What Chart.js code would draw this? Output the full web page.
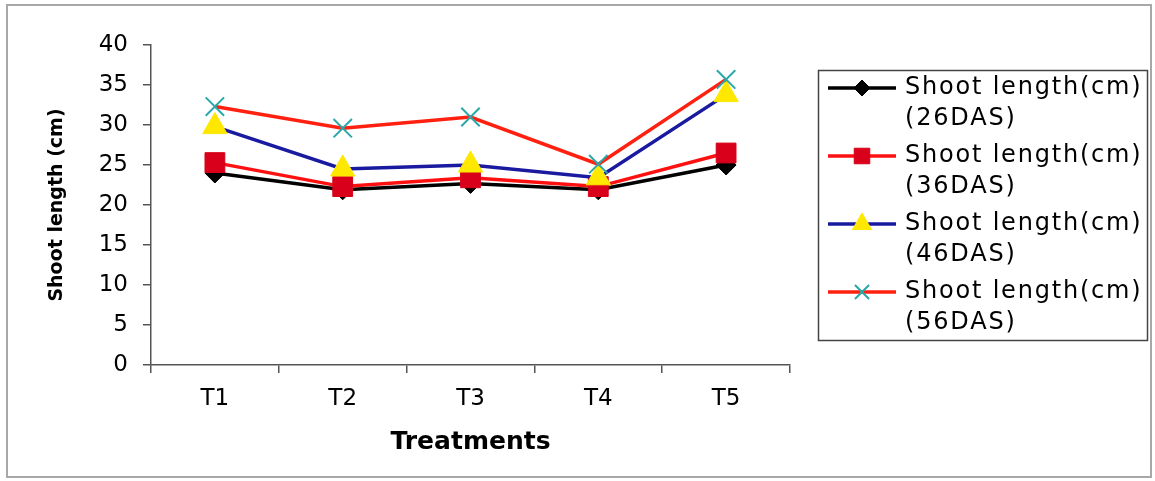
<!DOCTYPE html>
<html>
<head>
<meta charset="utf-8">
<title>Shoot length</title>
<script src="https://cdn.jsdelivr.net/npm/chart.js@4.4.1/dist/chart.umd.min.js"></script>
<style>
    html, body { margin: 0; padding: 0; background: #fff; }
    canvas { display: block; }
</style>
</head>
<body>
<canvas id="shootChart" width="1155" height="481"></canvas>
<script>
/* global Chart */
const categories = ['T1', 'T2', 'T3', 'T4', 'T5'];
const yTicks = [0, 5, 10, 15, 20, 25, 30, 35, 40];
const seriesNames = [
    ['Shoot length(cm)', '(26DAS)'],
    ['Shoot length(cm)', '(36DAS)'],
    ['Shoot length(cm)', '(46DAS)'],
    ['Shoot length(cm)', '(56DAS)'],
];
const das26 = [24.0, 21.9, 22.7, 21.9, 25.0];
const das36 = [25.3, 22.3, 23.4, 22.3, 26.5];
const das46 = [29.8, 24.5, 25.0, 23.4, 33.8];
const das56 = [32.3, 29.6, 31.0, 25.1, 35.7];

(function () {
    const FONT = '"DejaVu Sans", "Liberation Sans", Arial, sans-serif';
    const AXIS = '#555';

    function series(idx, values, line, marker, style, radius, markerBorder) {
        return {
            label: seriesNames[idx].join(' '),
            lines: seriesNames[idx],
            data: values,
            borderColor: line,
            borderWidth: 3.5,
            tension: 0,
            pointStyle: style,
            pointRadius: radius,
            pointHoverRadius: radius,
            pointBackgroundColor: marker,
            pointBorderColor: marker,
            pointBorderWidth: markerBorder || 1,
            order: 4 - idx,
        };
    }

    // white page with the thin grey frame round the figure
    const framePlugin = {
        id: 'frame',
        beforeDraw(chart) {
            const ctx = chart.ctx;
            ctx.save();
            ctx.fillStyle = '#fff';
            ctx.fillRect(0, 0, chart.width, chart.height);
            ctx.strokeStyle = '#a8a8a8';
            ctx.lineWidth = 2;
            ctx.strokeRect(7, 5, 1144, 472);
            ctx.restore();
        },
    };

    // boxed legend on the right, two text lines per entry
    const boxLegend = {
        id: 'boxLegend',
        afterDraw(chart) {
            const ctx = chart.ctx;
            const left = chart.chartArea.right + 28;
            const top = 70;
            ctx.save();
            ctx.strokeStyle = '#444';
            ctx.lineWidth = 1.5;
            ctx.strokeRect(left + 0.5, top + 0.5, 329, 270);

            chart.data.datasets.forEach((ds, i) => {
                const y = 88 + i * 68;
                ctx.strokeStyle = ds.borderColor;
                ctx.lineWidth = 3.5;
                ctx.beginPath();
                ctx.moveTo(left + 10, y);
                ctx.lineTo(left + 78, y);
                ctx.stroke();

                ctx.fillStyle = ds.pointBackgroundColor;
                ctx.strokeStyle = ds.pointBorderColor;
                ctx.lineWidth = ds.pointBorderWidth;
                Chart.helpers.drawPoint(ctx, {
                    pointStyle: ds.pointStyle,
                    radius: Math.round(ds.pointRadius * 0.75),
                    rotation: 0,
                    borderWidth: ds.pointBorderWidth,
                }, left + 44, y);

                ctx.fillStyle = '#000';
                ctx.font = '24px ' + FONT;
                ctx.letterSpacing = '1.8px';
                ctx.textBaseline = 'middle';
                ctx.textAlign = 'left';
                ds.lines.forEach((t, k) => ctx.fillText(t, left + 87, y + k * 31));
            });
            ctx.restore();
        },
    };

    const ctx = document.getElementById('shootChart').getContext('2d');
    new Chart(ctx, {
        type: 'line',
        data: {
            labels: categories,
            datasets: [
                series(0, das26, '#000000', '#000000', 'rectRot', 10),
                series(1, das36, '#ff1010', '#d8001a', 'rect', 14),
                series(2, das46, '#1a1aa0', '#ffe800', 'triangle', 14),
                series(3, das56, '#ff2010', '#2aa8a8', 'crossRot', 13, 2),
            ],
        },
        options: {
            responsive: false,
            animation: false,
            devicePixelRatio: 1,
            layout: { padding: { left: 12, right: 365, top: 45, bottom: 10 } },
            plugins: {
                legend: { display: false },
                tooltip: { enabled: false },
            },
            scales: {
                x: {
                    offset: true,
                    afterFit: (s) => { s.height = 106; },
                    grid: { offset: true, drawOnChartArea: false, tickLength: 8, color: AXIS, lineWidth: 1.5 },
                    border: { color: AXIS, width: 1.5 },
                    ticks: { color: '#000', padding: 12, font: { family: FONT, size: 23 } },
                    title: {
                        display: true,
                        text: 'Treatments',
                        color: '#000',
                        font: { family: FONT, size: 25, weight: 'bold' },
                        padding: { top: 0, bottom: 14 },
                    },
                },
                y: {
                    min: 0,
                    max: 40,
                    afterFit: (s) => { s.width = 139; },
                    afterBuildTicks: (s) => { s.ticks = yTicks.map(v => ({ value: v })); },
                    grid: { drawOnChartArea: false, tickLength: 8, color: AXIS, lineWidth: 1.5 },
                    border: { color: AXIS, width: 1.5 },
                    ticks: { color: '#000', padding: 15, font: { family: FONT, size: 23 } },
                    title: {
                        display: true,
                        text: 'Shoot length (cm)',
                        color: '#000',
                        font: { family: FONT, size: 19, weight: 'bold' },
                        padding: { top: 34, bottom: 0 },
                    },
                },
            },
        },
        plugins: [framePlugin, boxLegend],
    });
})();
</script>
</body>
</html>
